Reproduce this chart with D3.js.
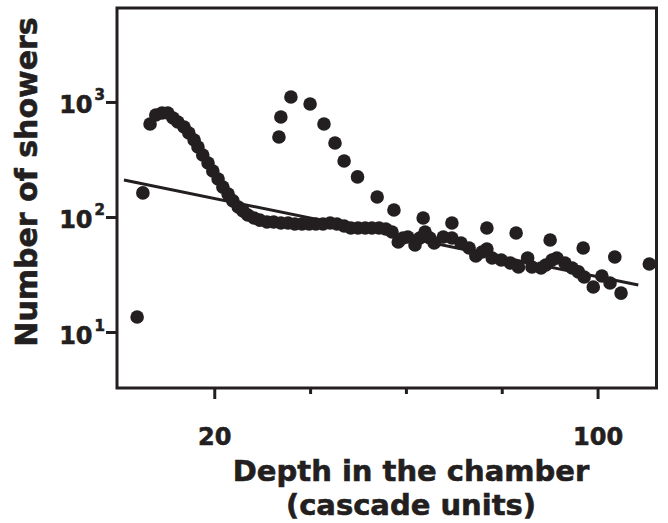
<!DOCTYPE html>
<html>
<head>
<meta charset="utf-8">
<script src="https://cdn.jsdelivr.net/npm/d3@7"></script>
<style>
  body { margin: 0; background: #fff; }
  svg text { font-family: "DejaVu Sans", sans-serif; font-weight: bold; fill: #231f20; stroke: #231f20; stroke-width: 0.6px; }
</style>
</head>
<body>
<svg id="chart" width="668" height="523"></svg>
<script>
// depth (cascade units) vs number of showers

// the dense curve
var depthA = [6.6, 7.8, 9.1, 10.3, 11.4, 12.4, 13.7, 14.7, 15.8, 16.6, 17.6, 18.7, 19.7, 20.8, 21.8, 22.9, 23.9, 25.0, 26.0, 27.0,
  28.3, 29.5, 31.0, 32.4, 33.9, 35.4, 36.8, 38.3, 39.8, 41.2, 42.7, 44.2, 45.6, 47.1, 48.5, 50.0, 51.5, 52.9, 54.4, 55.8,
  57.1, 58.4, 59.4, 60.4, 61.9, 62.9, 64.0, 65.0, 65.9, 67.8, 69.6, 71.5, 73.2, 74.6, 75.9, 76.9, 78.0, 79.9, 81.8, 83.5,
  85.4, 86.3, 88.2, 89.2, 90.5, 91.5, 93.2, 94.7, 96.0, 97.2, 99.1, 100.9, 102.6, 104.9];
var showersA = [644, 771, 802, 802, 726, 670, 606, 537, 467, 406, 346, 295, 251, 214, 182, 158, 138, 122, 113, 104,
  98, 94, 90.5, 90.5, 88.7, 88.7, 86.9, 86.9, 86.9, 86.9, 86.9, 88.7, 86.9, 83.5, 80.2, 80.2, 80.2, 80.2, 80.2, 78.7,
  74.1, 60.6, 65.7, 67, 57.1, 65.7, 74.1, 65.7, 59.4, 67, 65.7, 59.4, 53.7, 45.8, 49.6, 52.7, 44, 42.3, 39.8, 36.7,
  44, 36.7, 36, 38.2, 42.3, 44, 39.8, 36, 33.3, 30.1, 24.6, 30.7, 26.7, 21.8];

// the sparse points
var depthB = [3.9, 5.1, 33.5, 33.9, 36.0, 40.0, 42.9, 45.2, 47.1, 49.9, 54.0, 57.5, 63.6, 69.6, 76.9, 83.0, 90.1, 97.0, 103.6, 110.8];
var showersB = [13.5, 162, 496, 741, 1105, 961, 644, 440, 307, 223, 149, 115, 98, 88.7, 80.2, 72.6, 63.1, 53.7, 44.9, 39];

// straight fit line (two ends)
var fitDepth = [1.15, 108.5];
var fitShowers = [210, 25.6];

var xTicks = [20, 100];
var xMinorTicks = [40, 60, 80];
var yTicks = [10, 100, 1000];
var xExtent = [-0.3, 112.3];
var yExtent = [3.26, 6560];

var ink = "#231f20";
var svg = d3.select("#chart");

// plot frame in px (note: "top" is taken by window.top)
var frameL = 117, frameR = 656.5, frameT = 8, frameB = 388;

var x = d3.scaleLinear().domain(xExtent).range([frameL, frameR]);
var y = d3.scaleLog().domain(yExtent).range([frameB, frameT]);

// axes (ticks only, frame drawn separately)
svg.append("g")
  .attr("transform", "translate(0," + frameB + ")")
  .call(d3.axisBottom(x).tickValues(xTicks).tickSize(11).tickFormat(d3.format("d")))
  .call(g => g.select(".domain").remove())
  .call(g => g.selectAll("line").attr("stroke", ink).attr("stroke-width", 3))
  .call(g => g.selectAll("text").attr("dy", null).attr("y", 57).style("font-size", "24px").attr("fill", ink));

svg.append("g")
  .attr("transform", "translate(0," + frameB + ")")
  .call(d3.axisBottom(x).tickValues(xMinorTicks).tickSize(6).tickFormat(""))
  .call(g => g.select(".domain").remove())
  .call(g => g.selectAll("line").attr("stroke", ink).attr("stroke-width", 3));

var yAxis = svg.append("g")
  .attr("transform", "translate(" + frameL + ",0)")
  .call(d3.axisLeft(y).tickValues(yTicks).tickSize(11).tickFormat(""))
  .call(g => g.select(".domain").remove())
  .call(g => g.selectAll("line").attr("stroke", ink).attr("stroke-width", 3));

// 10^n labels with superscripts
yAxis.selectAll(".tick").append("text")
  .attr("x", -12)
  .attr("y", 11)
  .attr("text-anchor", "end")
  .style("font-size", "24px")
  .attr("fill", ink)
  .text("10")
  .append("tspan")
  .attr("dy", -13)
  .attr("dx", 2)
  .style("font-size", "15px")
  .text(d => Math.round(Math.log10(d)));

svg.append("rect")
  .attr("x", frameL).attr("y", frameT)
  .attr("width", frameR - frameL).attr("height", frameB - frameT)
  .attr("fill", "none").attr("stroke", ink).attr("stroke-width", 3);

var line = d3.line().x(d => x(d[0])).y(d => y(d[1]));
svg.append("path")
  .datum(d3.zip(fitDepth, fitShowers))
  .attr("d", line)
  .attr("fill", "none")
  .attr("stroke", ink)
  .attr("stroke-width", 3);

var pts = d3.zip(depthA, showersA).concat(d3.zip(depthB, showersB));
svg.append("g").selectAll("circle")
  .data(pts)
  .enter().append("circle")
  .attr("cx", d => x(d[0]))
  .attr("cy", d => y(d[1]))
  .attr("r", 6.8)
  .attr("fill", ink);

svg.append("text")
  .attr("transform", "translate(37,182) rotate(-90)")
  .attr("text-anchor", "middle")
  .style("font-size", "30px")
  .text("Number of showers");

svg.append("text")
  .attr("x", 411).attr("y", 481)
  .attr("text-anchor", "middle")
  .style("font-size", "29px")
  .text("Depth in the chamber");

svg.append("text")
  .attr("x", 411).attr("y", 515)
  .attr("text-anchor", "middle")
  .style("font-size", "29px")
  .text("(cascade units)");
</script>
</body>
</html>
